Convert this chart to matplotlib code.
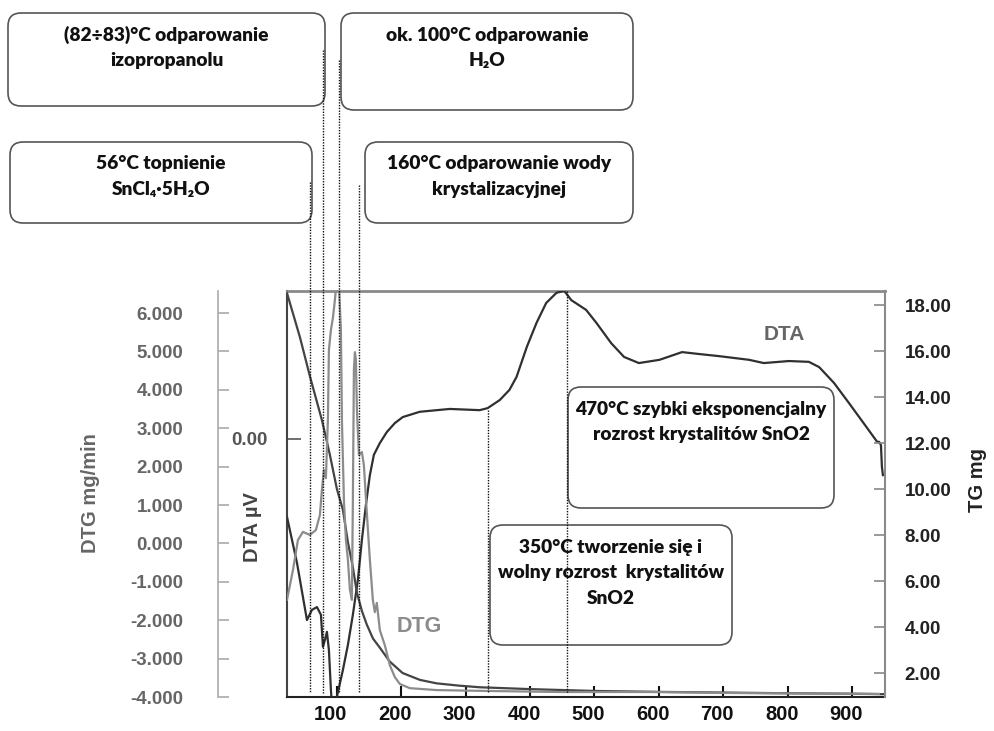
import matplotlib
matplotlib.use("Agg")
import matplotlib.pyplot as plt
from matplotlib.patches import FancyBboxPatch
from matplotlib.lines import Line2D
from matplotlib.transforms import blended_transform_factory, ScaledTranslation

plt.rcParams['font.family'] = ['Liberation Sans', 'DejaVu Sans']
plt.rcParams['font.weight'] = 'bold'

# ---------------- data ----------------
# DTA curve (arbitrary µV units, 0 at the "0.00" tick)
dta_T = [22.5, 38, 53.5, 61.2, 69, 75.2, 78.3, 81.4, 84.5, 87.6, 90.7, 93.8, 95.4, 98.4,
         100, 109.3, 117.1, 124.8, 132.6, 138.8, 145, 151.2, 157.4, 166.7, 177.5, 189.9,
         202.3, 228.7, 275.2, 321.7, 334.1, 353, 368, 379, 395, 410, 425, 441, 453, 464,
         487, 503, 526, 546, 569, 601, 636, 664, 694, 740, 763, 802, 833, 849, 872, 895,
         918, 939, 942, 944.9, 946.4, 948]
dta_v = [-19.2, -30.5, -44.6, -42.1, -41.4, -43.3, -51.2, -49.5, -47.5, -52, -61.8, -69.2,
         -74, -69, -63.5, -56.9, -50.7, -43.3, -34.7, -24.9, -16.3, -8.9, -3.9, -1.0, 1.7,
         3.9, 5.4, 6.7, 7.4, 7.1, 7.6, 9.6, 12.1, 15.3, 22.7, 28.6, 33.5, 36.0, 36.5, 34.2,
         31.8, 28.6, 23.6, 20.2, 18.7, 19.5, 21.4, 20.9, 20.4, 19.5, 18.7, 19.2, 19.0, 17.7,
         13.8, 8.9, 3.9, -0.7, -0.7, -1.5, -6.9, -8.9]

# TG curve (mg)
tg_T = [22.5, 42.6, 58.1, 76.7, 89, 100, 109.3, 117, 124.8, 131, 138.8, 146.5, 156, 166.7,
        182, 202, 229, 255, 290, 322, 400, 500, 600, 700, 800, 900, 948]
tg_v = [18.52, 16.6, 14.9, 13.0, 11.5, 10.0, 9.1, 7.7, 6.6, 5.5, 4.7, 4.1, 3.5, 3.1,
        2.5, 2.0, 1.7, 1.55, 1.45, 1.38, 1.3, 1.22, 1.18, 1.15, 1.12, 1.1, 1.08]

# DTG curve (mg/min)
dtg_T = [22.5, 31.8, 39.5, 47.3, 58.1, 67.4, 73.6, 76.7, 79.8, 82.9, 86.0, 87.6, 90.7,
         93.8, 96.9, 100, 103.1, 106.2, 107.8, 110.9, 114.0, 117.1, 120.2, 123.3, 124.8,
         126.4, 128, 129.5, 131.1, 134.2, 138.8, 141.9, 146.5, 151.2, 155.8, 158.9, 162.0,
         166.7, 174.4, 182.2, 189.9, 197.7, 213.2, 255, 321.7, 445.7, 585, 740, 941.9]
dtg_v = [-1.47, -0.69, 0.09, 0.30, 0.22, 0.35, 0.74, 1.39, 1.91, 1.70, 3.21, 5.04, 5.56,
         5.87, 6.34, 6.9, 6.75, 5.56, 3.21, 1.13, 0.09, -0.43, -1.21, -1.47, 1.13, 4.52,
         4.98, 4.78, 3.47, 2.30, 2.38, 2.04, 0.79, -0.43, -1.47, -1.79, -1.55, -2.26, -2.65,
         -3.17, -3.48, -3.66, -3.77, -3.82, -3.84, -3.87, -3.87, -3.90, -3.92]

x_ticks = [100, 200, 300, 400, 500, 600, 700, 800, 900]
tg_ticks = [2, 4, 6, 8, 10, 12, 14, 16, 18]
dtg_ticks = [-4, -3, -2, -1, 0, 1, 2, 3, 4, 5, 6]

# vertical marker lines (temperature, top of line in figure px from top)
marker_T = [58, 78, 103, 134, 334, 458]
marker_top = [182, 50, 60, 185, 410, 291]

# annotation boxes: (x0, y0, x1, y1) in px from top-left, lines of text
boxes = [
    ((8, 13, 325, 106), ["(82÷83)°C odparowanie", "izopropanolu"]),
    ((341, 13, 633, 110), ["ok. 100°C odparowanie", "H₂O"]),
    ((10, 142, 312, 223), ["56°C topnienie", "SnCl₄·5H₂O"]),
    ((365, 142, 633, 223), ["160°C odparowanie wody", "krystalizacyjnej"]),
    ((568, 387, 834, 508), ["470°C szybki eksponencjalny", "rozrost krystalitów SnO2"]),
    ((490, 525, 732, 645), ["350°C tworzenie się i", "wolny rozrost  krystalitów", "SnO2"]),
]

# ---------------- figure ----------------
W, H, DPI = 995, 731, 100
fig = plt.figure(figsize=(W / DPI, H / DPI), dpi=DPI)
fig.patch.set_facecolor('white')

L, R, B, T = 287, 885, 697, 291
ax = fig.add_axes([L / W, (H - B) / H, (R - L) / W, (B - T) / H])
ax_tg = ax.twinx()
ax_dtg = ax.twinx()

# DTA (main axes)
ax.plot(dta_T, dta_v, color='#303030', lw=1.6, zorder=3)
ax.set_xlim(22.5, 951.2)
ax.set_ylim(-63.55, 36.45)
ax.set_yticks([0])
ax.set_yticklabels(['0.00'])
ax.set_xticks(x_ticks)
ax.set_xticklabels([str(v) for v in x_ticks])
ax.tick_params(axis='x', direction='in', length=8, width=1.5, colors='#111111',
               labelsize=14.5, pad=6)
ax.tick_params(axis='y', direction='in', length=10, width=1.2, colors='#555555',
               labelsize=13.5, pad=14)
for lbl in ax.get_xticklabels():
    lbl.set_transform(lbl.get_transform() + ScaledTranslation(-6 / DPI, 0, fig.dpi_scale_trans))
    lbl.set_fontweight('bold')
ax.spines['left'].set_color('#444444')
ax.spines['left'].set_linewidth(1.5)
ax.spines['bottom'].set_color('#222222')
ax.spines['bottom'].set_linewidth(1.5)
ax.spines['top'].set_color('#8a8a8a')
ax.spines['top'].set_linewidth(2)
ax.spines['right'].set_visible(False)

# TG
ax_tg.plot(tg_T, tg_v, color='#444444', lw=1.6, zorder=3)
ax_tg.set_ylim(0.957, 18.61)
ax_tg.set_yticks(tg_ticks)
ax_tg.set_yticklabels(['%.2f' % v for v in tg_ticks])
ax_tg.tick_params(axis='y', direction='in', length=8, width=1.2, colors='#888888',
                  labelcolor='#222222', labelsize=13.5, pad=14)
for s in ['left', 'top', 'bottom']:
    ax_tg.spines[s].set_visible(False)
ax_tg.spines['right'].set_color('#8a8a8a')
ax_tg.spines['right'].set_linewidth(1.5)

# DTG
ax_dtg.plot(dtg_T, dtg_v, color='#8c8c8c', lw=1.6, zorder=3)
ax_dtg.set_ylim(-4, 6.573)
ax_dtg.yaxis.set_ticks_position('left')
ax_dtg.yaxis.set_label_position('left')
ax_dtg.spines['left'].set_position(('axes', (218 - L) / (R - L)))
ax_dtg.spines['left'].set_visible(True)
ax_dtg.spines['left'].set_color('#aaaaaa')
ax_dtg.spines['left'].set_linewidth(1.2)
for s in ['right', 'top', 'bottom']:
    ax_dtg.spines[s].set_visible(False)
ax_dtg.set_yticks(dtg_ticks)
ax_dtg.set_yticklabels(['%.3f' % v for v in dtg_ticks])
ax_dtg.tick_params(axis='y', direction='in', length=8, width=1.2, colors='#aaaaaa',
                   labelcolor='#666666', labelsize=13.5, pad=25)

# axis titles
fig.text(91 / W, 1 - 493 / H, 'DTG mg/min', rotation=90, ha='center', va='center',
         fontsize=14.5, color='#666666', fontweight='bold')
fig.text(253 / W, 1 - 527 / H, 'DTA µV', rotation=90, ha='center', va='center',
         fontsize=14.5, color='#444444', fontweight='bold')
fig.text(978 / W, 1 - 480 / H, 'TG mg', rotation=90, ha='center', va='center',
         fontsize=14.5, color='#222222', fontweight='bold')

# curve labels
fig.text(784 / W, 1 - 335 / H, 'DTA', ha='center', va='center', fontsize=15,
         color='#666666', fontweight='bold')
fig.text(419 / W, 1 - 627 / H, 'DTG', ha='center', va='center', fontsize=15.5,
         color='#8c8c8c', fontweight='bold')

# annotation boxes
for (x0, y0, x1, y1), lines in boxes:
    p = FancyBboxPatch((x0 / DPI, (H - y1) / DPI), (x1 - x0) / DPI, (y1 - y0) / DPI,
                       boxstyle='round,pad=0,rounding_size=0.13',
                       transform=fig.dpi_scale_trans, facecolor='white',
                       edgecolor='#555555', lw=1.2, zorder=5)
    fig.add_artist(p)
    cx = (x0 + x1) / 2
    for i, line in enumerate(lines):
        fig.text(cx / W, 1 - (y0 + 22 + 25.5 * i) / H, line, ha='center', va='center',
                 fontsize=13.8, fontweight='heavy', family=['Lato', 'DejaVu Sans'],
                 color='#111111', zorder=6)

# dotted marker lines (drawn on top of the boxes' edges)
blend = blended_transform_factory(ax.transData, fig.transFigure)
for t, top in zip(marker_T, marker_top):
    ln = Line2D([t, t], [1 - top / H, 1 - 693 / H], transform=blend,
                color='#111111', lw=1.0, ls=(0, (1, 1)), zorder=7)
    fig.add_artist(ln)

fig.savefig('out.png', dpi=DPI, facecolor='white')
